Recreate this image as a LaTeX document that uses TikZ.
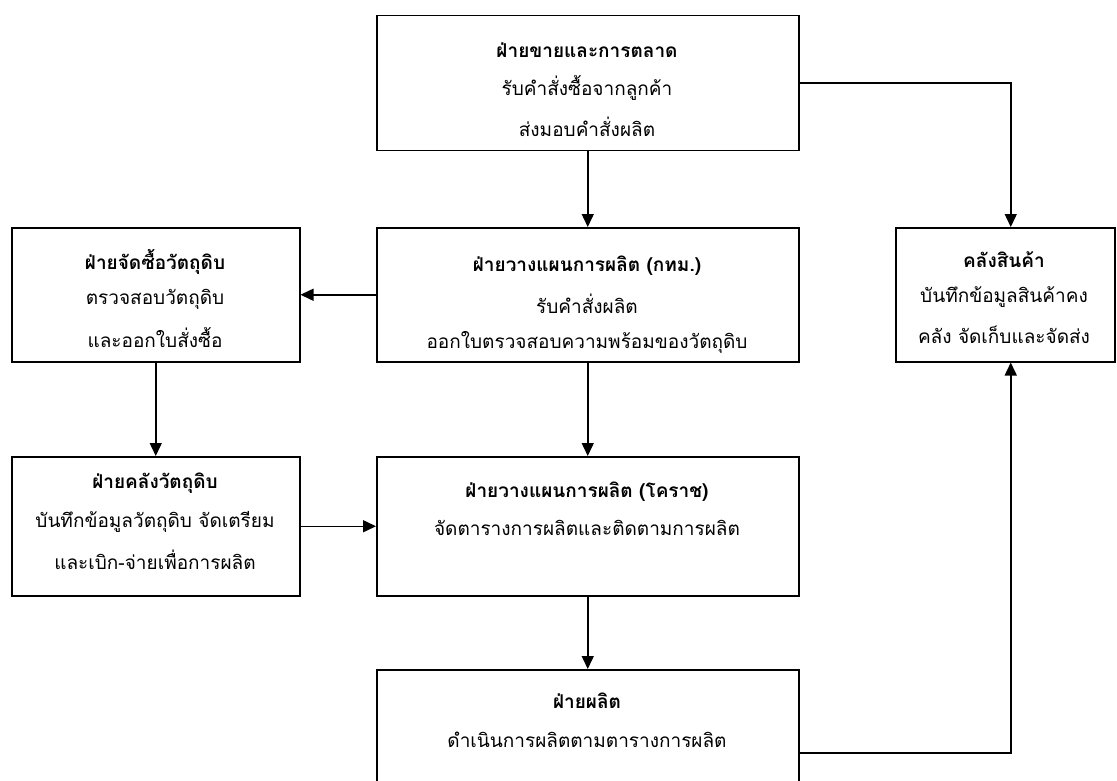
\documentclass[tikz,border=0pt]{standalone}
\usepackage{fontspec}
\newfontfamily\thai[Script=Thai]{Loma}
\usetikzlibrary{arrows.meta}
\tikzset{
  x=1pt, y=-1pt,
  box/.style={draw, line width=1.5pt, anchor=north west, inner sep=0pt},
  ttl/.style={font=\thai\bfseries\fontsize{19}{22}\selectfont, anchor=center, inner sep=0pt},
  txt/.style={font=\thai\fontsize{19}{22}\selectfont, anchor=center, inner sep=0pt},
  conn/.style={line width=1.5pt},
  arr/.style={conn, -{Triangle[length=13pt,width=12pt]}},
}
\begin{document}
\begin{tikzpicture}
\useasboundingbox (0,0) rectangle (1117,781);
\clip (0,0) rectangle (1117,781);
\fill[white] (0,0) rectangle (1117,781);

% boxes
\node[box, minimum width=422pt, minimum height=135pt] (sales) at (376,15) {};
\node[box, minimum width=422pt, minimum height=134pt] (plan1) at (376,227) {};
\node[box, minimum width=288pt, minimum height=134pt] (buy) at (11,227) {};
\node[box, minimum width=219pt, minimum height=134pt] (store) at (895,227) {};
\node[box, minimum width=288pt, minimum height=139pt] (rm) at (11,456) {};
\node[box, minimum width=422pt, minimum height=139pt] (plan2) at (376,456) {};
\node[box, minimum width=422pt, minimum height=166pt] (prod) at (376,669) {};

% texts
\node[ttl] (salesT) at (587,50) {ฝ่ายขายและการตลาด};
\node[txt] (salesA) at (587,88) {รับคำสั่งซื้อจากลูกค้า};
\node[txt] (salesB) at (587,127) {ส่งมอบคำสั่งผลิต};

\node[ttl] (plan1T) at (587,266) {ฝ่ายวางแผนการผลิต (กทม.)};
\node[txt] (plan1A) at (587,304) {รับคำสั่งผลิต};
\node[txt] (plan1B) at (587,342) {ออกใบตรวจสอบความพร้อมของวัตถุดิบ};

\node[ttl] (buyT) at (155,262) {ฝ่ายจัดซื้อวัตถุดิบ};
\node[txt] (buyA) at (155,299) {ตรวจสอบวัตถุดิบ};
\node[txt] (buyB) at (155,337) {และออกใบสั่งซื้อ};

\node[ttl] (storeT) at (1004,260) {คลังสินค้า};
\node[txt] (storeA) at (1004,297) {บันทึกข้อมูลสินค้าคง};
\node[txt] (storeB) at (1004,335) {คลัง จัดเก็บและจัดส่ง};

\node[ttl] (rmT) at (155,483) {ฝ่ายคลังวัตถุดิบ};
\node[txt] (rmA) at (155,522) {บันทึกข้อมูลวัตถุดิบ จัดเตรียม};
\node[txt] (rmB) at (155,560) {และเบิก-จ่ายเพื่อการผลิต};

\node[ttl] (plan2T) at (587,492) {ฝ่ายวางแผนการผลิต (โคราช)};
\node[txt] (plan2A) at (587,528) {จัดตารางการผลิตและติดตามการผลิต};

\node[ttl] (prodT) at (587,701) {ฝ่ายผลิต};
\node[txt] (prodA) at (587,740) {ดำเนินการผลิตตามตารางการผลิต};

% connectors
\draw[arr] (sales.south) -- (plan1.north);
\draw[arr] (sales.east) -| ([xshift=5.5pt]store.north);
\draw[arr] (plan1.west) -- (buy.east);
\draw[arr] (buy.south) -- (rm.north);
\draw[arr] (plan1.south) -- (plan2.north);
\draw[arr] (rm.east) -- (plan2.west);
\draw[arr] (plan2.south) -- (prod.north);
\draw[arr] (prod.east) -| ([xshift=5.5pt]store.south);
\end{tikzpicture}
\end{document}
